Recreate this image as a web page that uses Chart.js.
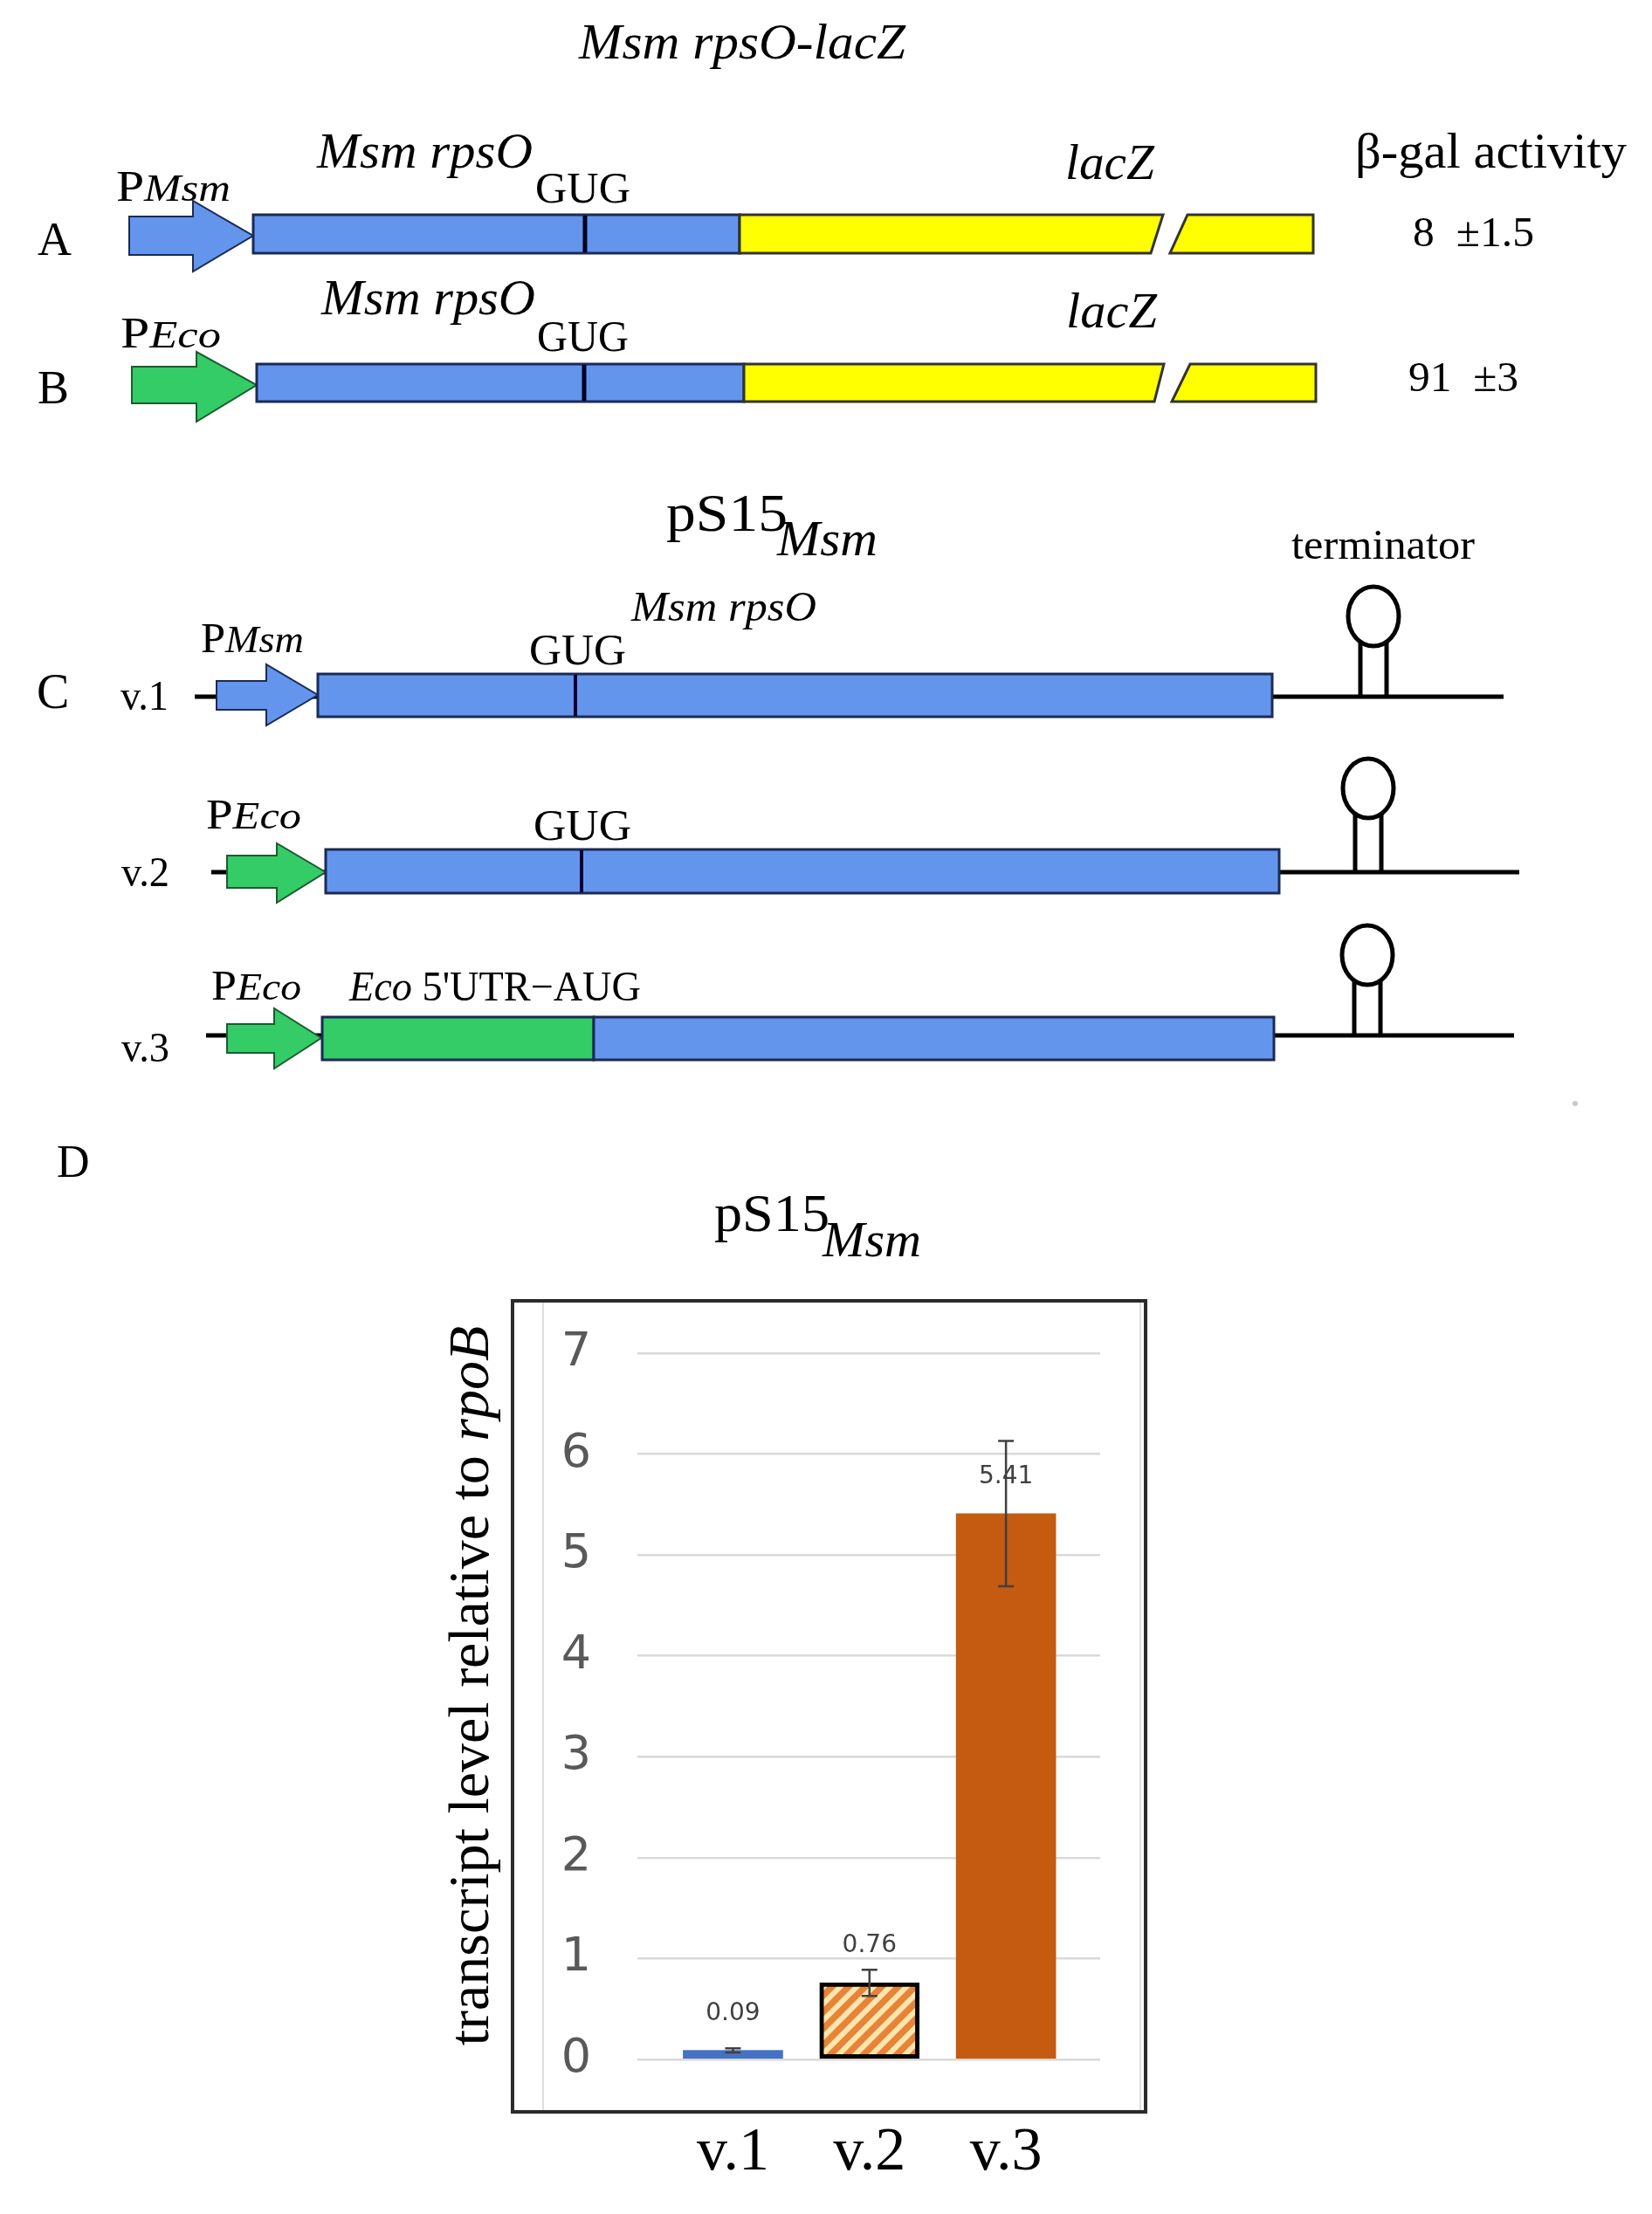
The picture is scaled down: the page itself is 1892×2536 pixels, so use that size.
<!DOCTYPE html>
<html>
<head>
<meta charset="utf-8">
<script src="https://cdn.jsdelivr.net/npm/chart.js@4.4.1/dist/chart.umd.min.js"></script>
<style>
html,body{margin:0;padding:0;background:#fff;}
#page{position:relative;width:1892px;height:2536px;overflow:hidden;background:#fff;}
#chartCanvas{position:absolute;left:0;top:1300px;}
#diagram{position:absolute;left:0;top:0;}
#ytitle{position:absolute;left:77px;top:1891px;width:920px;height:80px;line-height:80px;
  font-family:'Liberation Serif','Times New Roman',serif;font-size:66px;color:#000;text-align:center;
  white-space:nowrap;transform:rotate(-90deg);}
</style>
</head>
<body>
<div id="page">
<canvas id="chartCanvas" width="1892" height="1188" style="width:1892px;height:1188px"></canvas>

<svg id="diagram" xmlns="http://www.w3.org/2000/svg" width="1892" height="2536" font-family="'Liberation Serif','Times New Roman',serif" fill="#000">
  <!-- header A/B -->
  <text x="663" y="67" font-size="58" font-style="italic" textLength="374" lengthAdjust="spacingAndGlyphs">Msm rpsO-lacZ</text>

  <!-- Row A -->
  <text x="43" y="292" font-size="54">A</text>
  <text x="133" y="230" font-size="50" textLength="131" lengthAdjust="spacingAndGlyphs">P<tspan font-style="italic" font-size="44">Msm</tspan></text>
  <text x="363" y="192" font-size="56" font-style="italic" textLength="247" lengthAdjust="spacingAndGlyphs">Msm rpsO</text>
  <text x="613" y="232" font-size="50" textLength="109" lengthAdjust="spacingAndGlyphs">GUG</text>
  <text x="1220" y="205" font-size="57" font-style="italic" textLength="102" lengthAdjust="spacingAndGlyphs">lacZ</text>
  <text x="1552" y="192" font-size="58" textLength="311" lengthAdjust="spacingAndGlyphs">β-gal activity</text>
  <text id="betaA" x="1618" y="282" font-size="48" textLength="139" lengthAdjust="spacingAndGlyphs"></text>
  <polygon points="148,248 221,248 221,230 290,270 221,311 221,292 148,292" fill="#6495ED" stroke="#1b2a55" stroke-width="2"/>
  <rect x="290" y="246" width="557" height="44" fill="#6495ED" stroke="#1b2a55" stroke-width="3"/>
  <line x1="670" y1="247" x2="670" y2="289" stroke="#000022" stroke-width="5"/>
  <polygon points="847,246 1332,246 1318,290 847,290" fill="#FFFF00" stroke="#333" stroke-width="3"/>
  <polygon points="1360,246 1504,246 1504,290 1340,290" fill="#FFFF00" stroke="#333" stroke-width="3"/>

  <!-- Row B -->
  <text x="43" y="462" font-size="54">B</text>
  <text x="138" y="398" font-size="50" textLength="115" lengthAdjust="spacingAndGlyphs">P<tspan font-style="italic" font-size="44">Eco</tspan></text>
  <text x="368" y="360" font-size="56" font-style="italic" textLength="245" lengthAdjust="spacingAndGlyphs">Msm rpsO</text>
  <text x="615" y="402" font-size="50" textLength="105" lengthAdjust="spacingAndGlyphs">GUG</text>
  <text x="1221" y="375" font-size="57" font-style="italic" textLength="104" lengthAdjust="spacingAndGlyphs">lacZ</text>
  <text id="betaB" x="1613" y="448" font-size="48" textLength="126" lengthAdjust="spacingAndGlyphs"></text>
  <polygon points="151,420 225,420 225,403 294,441 225,483 225,462 151,462" fill="#33CC66" stroke="#1d5a30" stroke-width="2"/>
  <rect x="294" y="417" width="558" height="43" fill="#6495ED" stroke="#1b2a55" stroke-width="3"/>
  <line x1="669" y1="418" x2="669" y2="459" stroke="#000022" stroke-width="5"/>
  <polygon points="852,417 1333,417 1322,460 852,460" fill="#FFFF00" stroke="#333" stroke-width="3"/>
  <polygon points="1363,417 1507,417 1507,460 1342,460" fill="#FFFF00" stroke="#333" stroke-width="3"/>

  <!-- Section C -->
  <text x="763" y="608" font-size="62" textLength="139" lengthAdjust="spacingAndGlyphs">pS15</text>
  <text x="890" y="636" font-size="58" font-style="italic" textLength="115" lengthAdjust="spacingAndGlyphs">Msm</text>
  <text x="1479" y="640" font-size="48" textLength="210" lengthAdjust="spacingAndGlyphs">terminator</text>

  <!-- v.1 -->
  <text x="42" y="811" font-size="56">C</text>
  <text x="138" y="813" font-size="48" textLength="55" lengthAdjust="spacingAndGlyphs">v.1</text>
  <text x="230" y="747" font-size="48" textLength="118" lengthAdjust="spacingAndGlyphs">P<tspan font-style="italic" font-size="44">Msm</tspan></text>
  <text x="723" y="711" font-size="48" font-style="italic" textLength="212" lengthAdjust="spacingAndGlyphs">Msm rpsO</text>
  <text x="606" y="761" font-size="50" textLength="111" lengthAdjust="spacingAndGlyphs">GUG</text>
  <line x1="223" y1="798" x2="1722" y2="798" stroke="#000" stroke-width="5"/>
  <polygon points="248,780 305,780 305,761 364,796 305,831 305,813 248,813" fill="#6495ED" stroke="#1b2a55" stroke-width="2"/>
  <rect x="364" y="772" width="1093" height="49" fill="#6495ED" stroke="#1b2a55" stroke-width="3"/>
  <line x1="659" y1="773" x2="659" y2="820" stroke="#000033" stroke-width="4"/>
  <line x1="1558" y1="734" x2="1558" y2="798" stroke="#000" stroke-width="5"/>
  <line x1="1588" y1="734" x2="1588" y2="798" stroke="#000" stroke-width="5"/>
  <ellipse cx="1573" cy="706" rx="29" ry="34" fill="#fff" stroke="#000" stroke-width="5"/>

  <!-- v.2 -->
  <text x="139" y="1015" font-size="48" textLength="55" lengthAdjust="spacingAndGlyphs">v.2</text>
  <text x="236" y="949" font-size="48" textLength="109" lengthAdjust="spacingAndGlyphs">P<tspan font-style="italic" font-size="44">Eco</tspan></text>
  <text x="611" y="962" font-size="50" textLength="112" lengthAdjust="spacingAndGlyphs">GUG</text>
  <line x1="242" y1="999" x2="1740" y2="999" stroke="#000" stroke-width="5"/>
  <polygon points="260,980 317,980 317,966 373,999 317,1034 317,1017 260,1017" fill="#33CC66" stroke="#1d5a30" stroke-width="2"/>
  <rect x="373" y="973" width="1092" height="50" fill="#6495ED" stroke="#1b2a55" stroke-width="3"/>
  <line x1="666" y1="974" x2="666" y2="1022" stroke="#000033" stroke-width="4"/>
  <line x1="1552" y1="931" x2="1552" y2="999" stroke="#000" stroke-width="5"/>
  <line x1="1582" y1="931" x2="1582" y2="999" stroke="#000" stroke-width="5"/>
  <ellipse cx="1567" cy="903" rx="29" ry="34" fill="#fff" stroke="#000" stroke-width="5"/>

  <!-- v.3 -->
  <text x="139" y="1216" font-size="48" textLength="55" lengthAdjust="spacingAndGlyphs">v.3</text>
  <text x="242" y="1145" font-size="48" textLength="103" lengthAdjust="spacingAndGlyphs">P<tspan font-style="italic" font-size="44">Eco</tspan></text>
  <text x="400" y="1146" font-size="48" textLength="334" lengthAdjust="spacingAndGlyphs"><tspan font-style="italic">Eco</tspan> 5'UTR−AUG</text>
  <line x1="236" y1="1186" x2="1734" y2="1186" stroke="#000" stroke-width="5"/>
  <polygon points="260,1173 314,1173 314,1155 368,1189 314,1224 314,1206 260,1206" fill="#33CC66" stroke="#1d5a30" stroke-width="2"/>
  <rect x="369" y="1165" width="311" height="49" fill="#33CC66" stroke="#1b2a55" stroke-width="3"/>
  <rect x="680" y="1165" width="779" height="49" fill="#6495ED" stroke="#1b2a55" stroke-width="3"/>
  <line x1="1551" y1="1122" x2="1551" y2="1186" stroke="#000" stroke-width="5"/>
  <line x1="1581" y1="1122" x2="1581" y2="1186" stroke="#000" stroke-width="5"/>
  <ellipse cx="1566" cy="1094" rx="29" ry="34" fill="#fff" stroke="#000" stroke-width="5"/>

  <circle cx="1804" cy="1264" r="3" fill="#c8c8c8"/>

  <!-- Section D -->
  <text x="65" y="1348" font-size="52">D</text>
  <text x="818" y="1410" font-size="62" textLength="132" lengthAdjust="spacingAndGlyphs">pS15</text>
  <text x="942" y="1439" font-size="58" font-style="italic" textLength="113" lengthAdjust="spacingAndGlyphs">Msm</text>
</svg>

<div id="ytitle">transcript level relative to <i>rpoB</i></div>
</div>

<script>
// ---- data ----
const categories = ['v.1', 'v.2', 'v.3'];
const transcriptLevels = [0.09, 0.76, 5.41];
const transcriptErrors = [0.02, 0.13, 0.72];
const yTicks = [0, 1, 2, 3, 4, 5, 6, 7];
const betaGalConstructs = ['A', 'B'];
const betaGalActivity = [8, 91];
const betaGalError = [1.5, 3];

// beta-gal text
betaGalConstructs.forEach((c, i) => {
  document.getElementById('beta' + c).textContent =
    betaGalActivity[i] + '\u00a0\u00a0\u00b1' + betaGalError[i];
});

// hatch pattern for v.2
function makeHatch() {
  const s = 19;
  const c = document.createElement('canvas');
  c.width = s; c.height = s;
  const g = c.getContext('2d');
  g.fillStyle = '#E8833A';
  g.fillRect(0, 0, s, s);
  g.strokeStyle = '#FDE6AE';
  g.lineWidth = 6;
  [0, s, 2 * s].forEach(k => {
    g.beginPath();
    g.moveTo(-3, k + 3);
    g.lineTo(s + 3, k - s - 3);
    g.stroke();
  });
  return g.createPattern(c, 'repeat');
}

const frame = {
  id: 'frame',
  beforeDraw(chart) {
    const { ctx, chartArea: a } = chart;
    ctx.save();
    ctx.strokeStyle = '#dedede';
    ctx.lineWidth = 2;
    [a.left - 108, a.right + 46].forEach(x => {
      ctx.beginPath();
      ctx.moveTo(x, a.top - 58);
      ctx.lineTo(x, a.bottom + 58);
      ctx.stroke();
    });
    ctx.strokeStyle = '#2b2b2b';
    ctx.lineWidth = 4;
    const l = a.left - 143, r = a.right + 52, t = a.top - 60, b = a.bottom + 60;
    ctx.strokeRect(l, t, r - l, b - t);
    ctx.restore();
  }
};

const annot = {
  id: 'annot',
  afterDatasetsDraw(chart) {
    const { ctx } = chart;
    const y = chart.scales.y;
    const meta = chart.getDatasetMeta(0);
    ctx.save();
    ctx.font = "28px 'DejaVu Sans', sans-serif";
    ctx.fillStyle = '#404040';
    ctx.textAlign = 'center';
    ctx.textBaseline = 'middle';
    meta.data.forEach((bar, i) => {
      ctx.fillText(transcriptLevels[i].toFixed(2), bar.x, bar.y - 42);
    });
    ctx.strokeStyle = '#404040';
    ctx.lineWidth = 2.5;
    meta.data.forEach((bar, i) => {
      const t = y.getPixelForValue(transcriptLevels[i] + transcriptErrors[i]);
      const b = y.getPixelForValue(transcriptLevels[i] - transcriptErrors[i]);
      ctx.beginPath();
      ctx.moveTo(bar.x, t); ctx.lineTo(bar.x, b);
      ctx.moveTo(bar.x - 9, t); ctx.lineTo(bar.x + 9, t);
      ctx.moveTo(bar.x - 9, b); ctx.lineTo(bar.x + 9, b);
      ctx.stroke();
    });
    ctx.restore();
  }
};

const canvas = document.getElementById('chartCanvas');
new Chart(canvas.getContext('2d'), {
  type: 'bar',
  data: {
    datasets: [{
      data: transcriptLevels.map((v, i) => ({ x: i, y: v })),
      backgroundColor: ['#4472C4', makeHatch(), '#C55A11'],
      borderColor: ['rgba(0,0,0,0)', '#000000', 'rgba(0,0,0,0)'],
      borderWidth: [0, 5, 0],
      borderSkipped: false,
      barThickness: 114
    }]
  },
  options: {
    responsive: false,
    animation: false,
    devicePixelRatio: 1,
    layout: { padding: { left: 600, right: 632, top: 250, bottom: 0 } },
    plugins: { legend: { display: false }, tooltip: { enabled: false } },
    scales: {
      x: {
        type: 'linear',
        offset: false,
        min: -0.7,
        max: 2.69,
        grid: { display: false, offset: false },
        border: { display: false },
        afterBuildTicks: s => { s.ticks = categories.map((c, i) => ({ value: i })); },
        afterFit: s => { s.height = 129; },
        ticks: {
          callback: v => categories[v] !== undefined ? categories[v] : '',
          font: { family: "'Liberation Serif', serif", size: 70, lineHeight: 1.2 },
          color: '#000',
          padding: 58,
          maxRotation: 0,
          autoSkip: false
        }
      },
      y: {
        min: 0,
        max: 7,
        afterBuildTicks: s => { s.ticks = yTicks.map(v => ({ value: v })); },
        afterFit: s => { s.width = 130; },
        grid: { color: '#d9d9d9', lineWidth: 2.5, drawTicks: false },
        border: { display: false },
        ticks: {
          padding: 53,
          color: '#595959',
          font: { family: "'DejaVu Sans', sans-serif", size: 54 }
        }
      }
    }
  },
  plugins: [frame, annot]
});
</script>
</body>
</html>
